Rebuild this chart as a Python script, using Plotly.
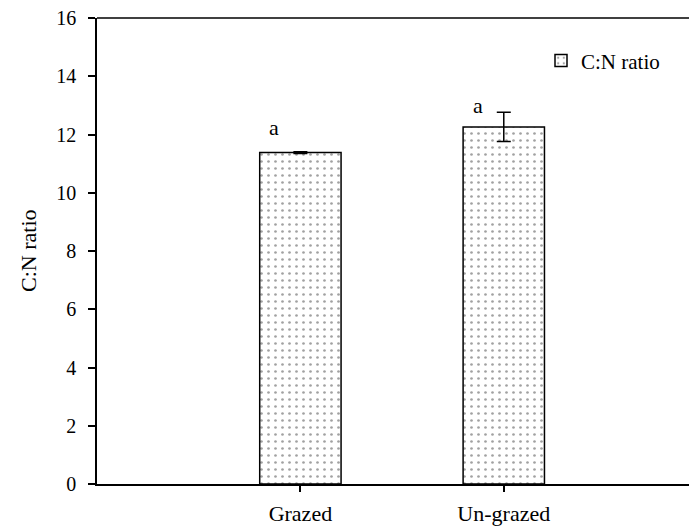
import plotly.graph_objects as go

# ---- data ----
categories = ["Grazed", "Un-grazed"]
cn_ratio = [11.38, 12.26]
cn_err = [0.03, 0.50]
sig_letters = ["a", "a"]
sig_letter_y = [12.25, 13.0]
y_ticks = [0, 2, 4, 6, 8, 10, 12, 14, 16]
y_title = "C:N ratio"

FONT = "Liberation Serif"

fig = go.Figure()
fig.add_trace(go.Bar(
    x=categories, y=cn_ratio, name="C:N ratio", width=0.4,
    error_y=dict(type="data", array=cn_err, visible=True, color="black",
                 thickness=1.5, width=7),
    marker=dict(color="white", line=dict(color="black", width=1.5),
                pattern=dict(shape=".", size=7, solidity=0.12,
                             fgcolor="#444444", bgcolor="white")),
))

for c, letter, yy in zip(categories, sig_letters, sig_letter_y):
    fig.add_annotation(x=c, y=yy, text=letter, showarrow=False, xshift=-26,
                       font=dict(family=FONT, size=22, color="black"))

# y-axis title
fig.add_annotation(xref="paper", yref="paper", x=-0.115, y=0.5, text=y_title,
                   textangle=-90, showarrow=False, xanchor="center",
                   yanchor="middle", font=dict(family=FONT, size=22, color="black"))

fig.add_shape(type="line", xref="paper", yref="paper", x0=0, x1=1, y0=1, y1=1,
              line=dict(color="black", width=1.5))

fig.update_layout(
    width=689, height=522,
    margin=dict(l=89, r=0, t=10, b=46),
    plot_bgcolor="white", paper_bgcolor="white",
    font=dict(family=FONT, size=22, color="black"),
    showlegend=True,
    legend=dict(x=0.74, y=0.952, xanchor="left", yanchor="top",
                bgcolor="rgba(0,0,0,0)", font=dict(family=FONT, size=21)),
    xaxis=dict(type="category", range=[-1.0, 1.95], showline=True,
               linecolor="black", linewidth=1.5, ticks="outside", ticklen=6,
               tickcolor="black", tickwidth=1.5, showgrid=False, zeroline=False,
               tickfont=dict(family=FONT, size=22), automargin=False,
               ticklabelstandoff=3),
    yaxis=dict(range=[0, 16], tickvals=y_ticks, showline=True,
               linecolor="black", linewidth=1.5, ticks="outside", ticklen=7,
               tickcolor="black", tickwidth=1.5, showgrid=False, zeroline=False,
               tickfont=dict(family=FONT, size=20), automargin=False,
               ticklabelstandoff=8, ticklabeloverflow="allow"),
)

fig.write_html("out.html")
